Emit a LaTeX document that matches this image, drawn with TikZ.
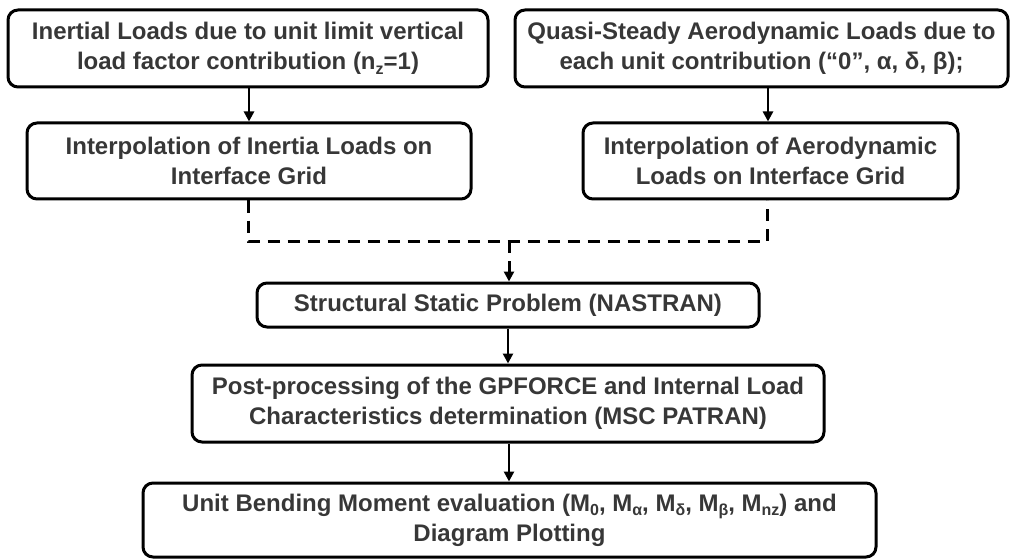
\documentclass[tikz,border=0pt]{standalone}
\usepackage{fontspec}
\setmainfont{Liberation Sans}
\usetikzlibrary{arrows.meta}
\definecolor{txt}{RGB}{55,55,55}
\newcommand{\lowsub}[1]{\raisebox{-0.35ex}{\fontsize{16}{16}\selectfont #1}}
\tikzset{
  box/.style={draw=black, line width=3pt, rounded corners=10pt, align=center,
    inner sep=0pt, text=txt, font=\fontsize{24}{30}\selectfont\bfseries},
  conn/.style={draw=black, line width=2.8pt, -{Triangle[length=10pt,width=10pt]}},
  dconn/.style={draw=black, line width=3pt, dash pattern=on 12pt off 8pt},
}
\begin{document}
\begin{tikzpicture}[x=1pt,y=-1pt]
\useasboundingbox (0,0) rectangle (1010,559);
\node[box, minimum width=480pt, minimum height=77pt] (b1) at (248,48.5)
  {Inertial Loads due to unit limit vertical\\load factor contribution (n\lowsub{z}=1)};
\node[box, minimum width=444pt, minimum height=76pt] (b2) at (249,161)
  {Interpolation of Inertia Loads on\\Interface Grid};
\node[box, minimum width=493pt, minimum height=77pt] (b3) at (761.5,48.5)
  {Quasi-Steady Aerodynamic Loads due to\\each unit contribution (“0”, α, δ, β);};
\node[box, minimum width=375pt, minimum height=76pt] (b4) at (770.5,161)
  {Interpolation of Aerodynamic\\Loads on Interface Grid};
\node[box, minimum width=502pt, minimum height=44pt] (b5) at (508,305)
  {Structural Static Problem (NASTRAN)};
\node[box, minimum width=632pt, minimum height=77pt] (b6) at (508,403.5)
  {Post-processing of the GPFORCE and Internal Load\\Characteristics determination (MSC PATRAN)};
\node[box, minimum width=733pt, minimum height=74pt] (b7) at (509.5,520)
  {Unit Bending Moment evaluation (M\lowsub{0}, M\lowsub{α}, M\lowsub{δ}, M\lowsub{β}, M\lowsub{nz}) and\\Diagram Plotting};
\coordinate (jl) at (248,241);
\coordinate (jr) at (767,241);
\coordinate (jm) at (509,241);
\draw[conn] (b1.south -| 249,0) -- (b2.north -| 249,0);
\draw[conn] (b3.south -| 768,0) -- (b4.north -| 768,0);
\draw[dconn] (b2.south -| jl) -- (jl) -- (jr) -- (b4.south -| jr);
\draw[dconn, -{Triangle[length=10pt,width=10pt]}] (jm) -- (b5.north -| jm);
\draw[conn] (b5.south -| 508,0) -- (b6.north -| 508,0);
\draw[conn] (b6.south -| 509,0) -- (b7.north -| 509,0);
\end{tikzpicture}
\end{document}
